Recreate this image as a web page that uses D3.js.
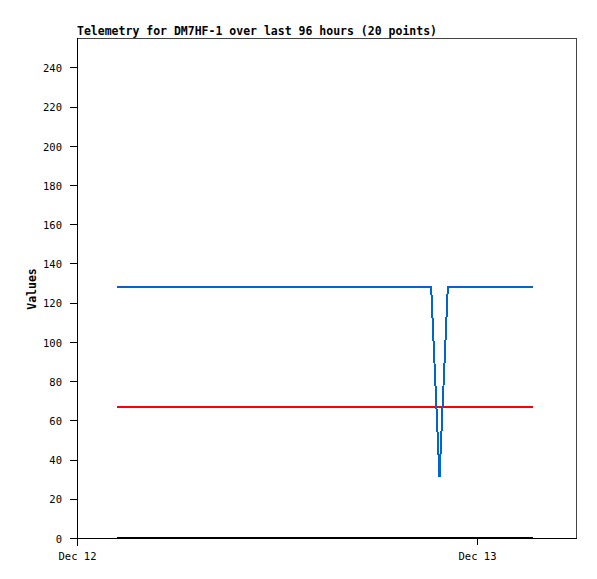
<!DOCTYPE html>
<html><head><meta charset="utf-8">
<script src="https://cdn.jsdelivr.net/npm/d3@7"></script>
<style>
body{margin:0;background:#fff;}
svg text{font-family:"DejaVu Sans Mono","Liberation Mono",monospace;}
</style></head>
<body><svg id="c" width="597" height="579"></svg>
<script>
const title = "Telemetry for DM7HF-1 over last 96 hours (20 points)";
const times = ["2023-12-12T02:24","2023-12-12T03:54","2023-12-12T05:24","2023-12-12T06:54","2023-12-12T08:24",
  "2023-12-12T09:54","2023-12-12T11:24","2023-12-12T12:54","2023-12-12T14:24","2023-12-12T15:54",
  "2023-12-12T17:24","2023-12-12T18:54","2023-12-12T20:24","2023-12-12T21:15","2023-12-12T21:45",
  "2023-12-12T22:15","2023-12-12T23:36","2023-12-13T01:00","2023-12-13T02:12","2023-12-13T03:20"];
const blueValues = [128,128,128,128,128,128,128,128,128,128,128,128,128,128,31,128,128,128,128,128];
const redValues  = [67,67,67,67,67,67,67,67,67,67,67,67,67,67,67,67,67,67,67,67];
const blackValues= [0,0,0,0,0,0,0,0,0,0,0,0,0,0,0,0,0,0,0,0];
const yTicks = [0,20,40,60,80,100,120,140,160,180,200,220,240];
const xDomain = ["2023-12-12T00:00","2023-12-13T06:00"];
const yDomain = [0,255];

const parse = d3.timeParse("%Y-%m-%dT%H:%M");
const dates = times.map(parse);
const svg = d3.select("#c");
const L=77, R=577, T=38, B=538;
const x = d3.scaleTime().domain(xDomain.map(parse)).range([L,R]);
const y = d3.scaleLinear().domain(yDomain).range([B,T]);

// frame
svg.append("rect").attr("x",L+0.5).attr("y",T+0.5).attr("width",R-L-1).attr("height",B-T)
  .attr("fill","none").attr("stroke","#444").attr("stroke-width",1).attr("shape-rendering","crispEdges");

// y axis
const ya = svg.append("g").attr("transform",`translate(${L},0)`)
  .call(d3.axisLeft(y).tickValues(yTicks).tickSize(7).tickPadding(8).tickSizeOuter(0));
ya.select(".domain").remove();
ya.selectAll("line").attr("stroke","#000").attr("shape-rendering","crispEdges");
ya.selectAll("text").attr("font-size","10.5px").attr("fill","#000").attr("dy","0.4em");
svg.append("line").attr("x1",L+0.5).attr("x2",L+0.5).attr("y1",T).attr("y2",B+8)
  .attr("stroke","#000").attr("shape-rendering","crispEdges");

// x axis
const xa = svg.append("g").attr("transform",`translate(0,${B})`)
  .call(d3.axisBottom(x).ticks(d3.timeDay.every(1)).tickFormat(d3.timeFormat("%b %d")).tickSize(7).tickPadding(8).tickSizeOuter(0));
xa.select(".domain").remove();
xa.selectAll("line").attr("stroke","#000").attr("shape-rendering","crispEdges");
xa.selectAll("text").attr("font-size","10.5px").attr("fill","#000");
svg.append("line").attr("x1",L-7).attr("x2",R).attr("y1",B+0.5).attr("y2",B+0.5)
  .attr("stroke","#000").attr("shape-rendering","crispEdges");

// title
svg.append("text").attr("x",L).attr("y",35).attr("font-size","11.5px").attr("font-weight","bold").text(title);
// y label
svg.append("text").attr("transform",`translate(36,289) rotate(-90)`).attr("text-anchor","middle")
  .attr("font-size","11.5px").attr("font-weight","bold").text("Values");

const line = vals => d3.line().x((d,i)=>x(dates[i])).y(d=>y(d))(vals);
[[blackValues,"#000"],[redValues,"#ff0000"],[blueValues,"#0066cc"]].forEach(([v,c])=>{
  svg.append("path").attr("d",line(v)).attr("fill","none").attr("stroke",c).attr("stroke-width",2)
    .attr("shape-rendering","crispEdges");
});
</script></body></html>
